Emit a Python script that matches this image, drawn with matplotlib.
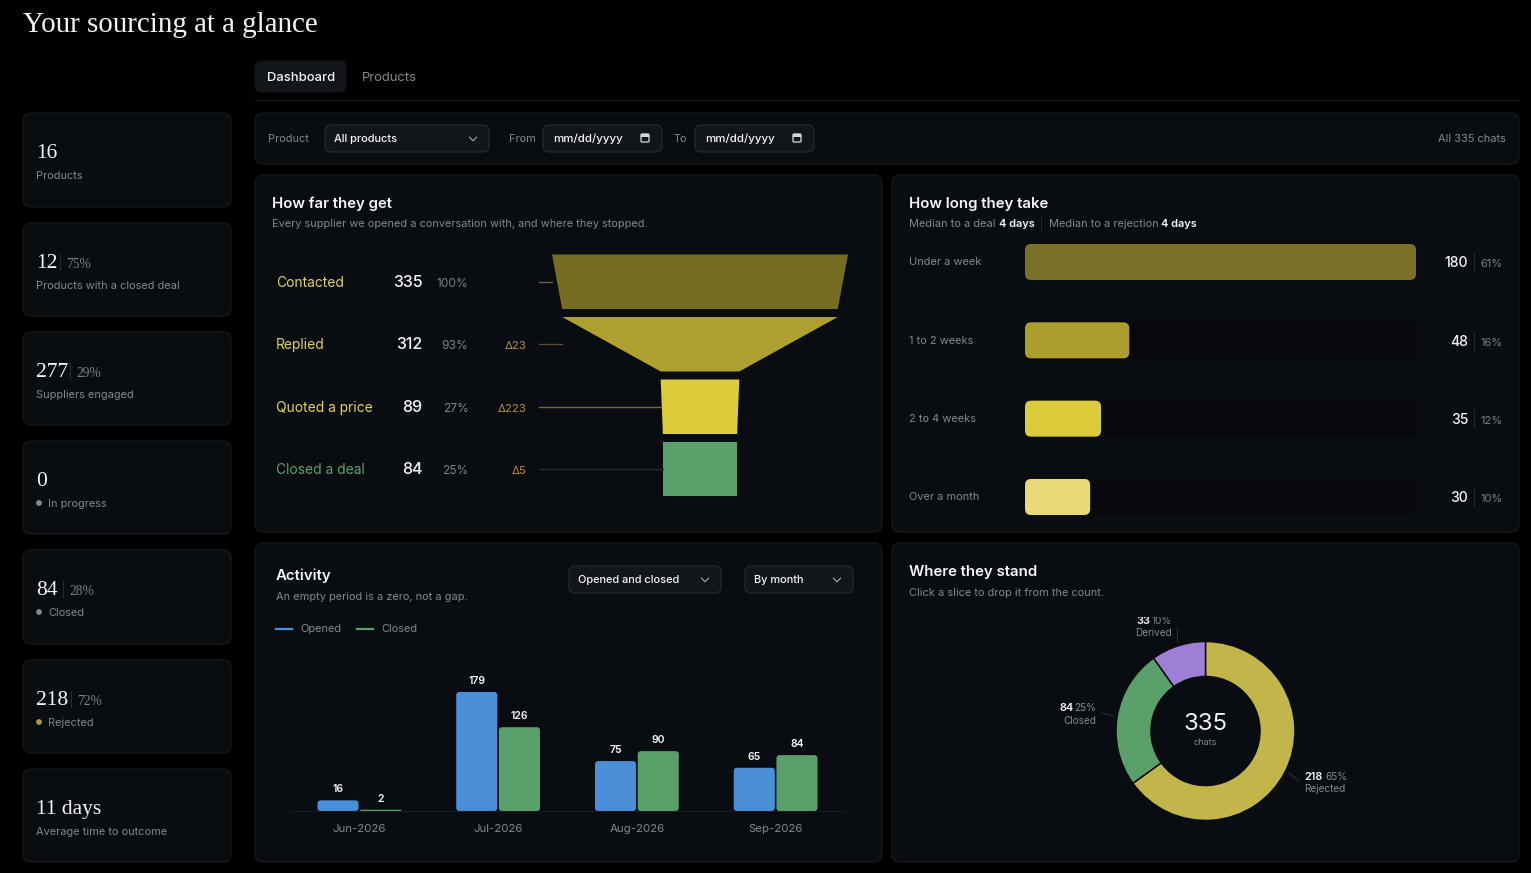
import matplotlib
matplotlib.use("Agg")
import matplotlib.pyplot as plt
from matplotlib.patches import FancyBboxPatch, Circle, Rectangle
from matplotlib.transforms import Bbox

W, H = 1531, 873

# data
stat_values = ["16", "12", "277", "0", "84", "218", "11 days"]
stat_shares = [None, "75%", "29%", None, "28%", "72%", None]
stat_labels = ["Products", "Products with a closed deal", "Suppliers engaged", "In progress",
               "Closed", "Rejected", "Average time to outcome"]

funnel_stages = ["Contacted", "Replied", "Quoted a price", "Closed a deal"]
funnel_counts = [335, 312, 89, 84]
funnel_pct = ["100%", "93%", "27%", "25%"]
funnel_delta = ["", "Δ23", "Δ223", "Δ5"]

duration_labels = ["Under a week", "1 to 2 weeks", "2 to 4 weeks", "Over a month"]
duration_counts = [180, 48, 35, 30]
duration_pct = ["61%", "16%", "12%", "10%"]

months = ["Jun-2026", "Jul-2026", "Aug-2026", "Sep-2026"]
opened = [16, 179, 75, 65]
closed = [2, 126, 90, 84]

status_names = ["Rejected", "Closed", "Derived"]
status_counts = [218, 84, 33]
status_pct = ["65%", "25%", "10%"]

# colours
BG = "#000000"
CARD = "#090c10"
BORDER = "#1a1e23"
CTRL = "#12151a"
CTRL_EDGE = "#2b2f35"
TRACK = "#07090c"
WHITE = "#f4f5f6"
GREY = "#83888e"
FUNNEL_COL = ["#766c22", "#aea02e", "#dccb3b", "#5aa06b"]
DURATION_COL = ["#7a7027", "#ab9e2f", "#dccb3b", "#e8da77"]
STAGE_TEXT = ["#e3d259", "#e3d259", "#e3d259", "#5aa06b"]
LINK_COL = ["#6d5a2e", "#57502a", "#7a6930", "#262b2e"]
DELTA = "#b98a3c"
BLUE = "#4a90d9"
GREEN = "#5aa06b"
DONUT_COL = ["#c2b54a", "#5aa06b", "#9f7fd6"]

SANS = ["Inter", "DejaVu Sans"]
SERIF = ["Liberation Serif", "DejaVu Serif"]
plt.rcParams["font.family"] = SANS

fig = plt.figure(figsize=(W / 100, H / 100), dpi=100, facecolor=BG)

# page layer, drawn in picture pixels
bg = fig.add_axes([0, 0, 1, 1], zorder=0)
bg.set_xlim(0, W)
bg.set_ylim(H, 0)
bg.axis("off")


def px_axes(x0, y0, x1, y1):
    ax = fig.add_axes([x0 / W, 1 - y1 / H, (x1 - x0) / W, (y1 - y0) / H], zorder=1)
    ax.patch.set_alpha(0)
    return ax


def txt(x, y, s, size=11, color=GREY, weight="normal", ha="left", family=None):
    # size is in css pixels
    return bg.text(x, y, s, fontsize=size * 0.72, color=color, fontweight=weight, ha=ha,
                   va="baseline", family=family or SANS)


def box(x0, y0, x1, y1, fc=CARD, ec=BORDER, r=8, lw=1):
    bg.add_patch(FancyBboxPatch((x0, y0), x1 - x0, y1 - y0,
                                boxstyle=f"round,pad=0,rounding_size={r}",
                                fc=fc, ec=ec, lw=lw * 0.72))


def chevron(x, y):
    bg.plot([x - 3.5, x, x + 3.5], [y - 1.8, y + 1.8, y - 1.8], color="#a9adb2", lw=0.8)


def calendar(x, y):
    box(x - 4, y - 4, x + 4, y + 4, fc="none", ec="#d4d6d9", r=1, lw=1.3)
    bg.add_patch(Rectangle((x - 4, y - 4), 8, 2.5, fc="#d4d6d9", ec="none"))


def round_bars(ax, bars, r):
    # swap the library's square bars for the same bars with round corners
    for rect in bars:
        x, y, w, h = rect.get_x(), rect.get_y(), rect.get_width(), rect.get_height()
        a = ax.transData.transform((x, y))
        b = ax.transData.transform((x + w, y + h))
        wpx, hpx = abs(b[0] - a[0]), abs(b[1] - a[1])
        rad = min(r, wpx / 2, hpx / 2)
        rx = rad * w / wpx
        ry = rad * h / hpx
        ax.add_patch(FancyBboxPatch((x, y), w, h, boxstyle=f"round,pad=0,rounding_size={rx}",
                                    mutation_aspect=ry / rx, fc=rect.get_facecolor(), ec="none",
                                    zorder=rect.get_zorder()))
        rect.set_visible(False)


# title and tabs
txt(23, 31.5, "Your sourcing at a glance", 29, WHITE, family=SERIF)
box(255, 61, 346, 92, fc=CTRL, ec=CTRL, r=6)
txt(267, 81, "Dashboard", 13, WHITE, weight="medium")
txt(362, 81, "Products", 13, GREY)
bg.plot([255, 1519], [100, 100], color=BORDER, lw=0.8)

# stat cards on the left
card_tops = [113, 223, 332, 441, 550, 660, 769]
card_bottoms = [207, 316, 425, 534, 644, 753, 862]
sep_x = [None, 60, 70, None, 63, 71, None]
dot_col = [None, None, None, "#83888e", "#83888e", "#a89b3a", None]
for i, val in enumerate(stat_values):
    top = card_tops[i]
    box(23, top, 231, card_bottoms[i])
    base = top + 46
    txt(36, base - 1, val, 21.5, WHITE, family=SERIF)
    if stat_shares[i]:
        bg.plot([sep_x[i], sep_x[i]], [base - 15, base + 1], color="#2b2f35", lw=0.7)
        txt(sep_x[i] + 6, base - 1, stat_shares[i], 13.5, "#7d8288", family=SERIF)
    if dot_col[i]:
        bg.add_patch(Circle((39, base + 16), 2.9, fc=dot_col[i], ec="none"))
        txt(48, base + 20, stat_labels[i], 11, GREY)
    else:
        txt(36, base + 20, stat_labels[i], 11, GREY)

# filter bar
box(255, 113, 1519, 164)
txt(268, 142, "Product", 11, GREY)
box(325, 125, 489, 152, fc=CTRL, ec=CTRL_EDGE, r=6)
txt(334, 142, "All products", 11, WHITE, weight="medium")
chevron(473, 139)
txt(509, 142, "From", 11, GREY)
box(543, 125, 662, 152, fc=CTRL, ec=CTRL_EDGE, r=6)
txt(553, 142, "mm/dd/yyyy", 11.5, WHITE, weight="medium")
calendar(645, 138)
txt(674, 142, "To", 11, GREY)
box(695, 125, 814, 152, fc=CTRL, ec=CTRL_EDGE, r=6)
txt(705, 142, "mm/dd/yyyy", 11.5, WHITE, weight="medium")
calendar(797, 138)
txt(1506, 142, "All 335 chats", 11, GREY, ha="right")

# panels
box(255, 175, 882, 532)
box(892, 175, 1519, 532)
box(255, 543, 882, 862)
box(892, 543, 1519, 862)

# funnel panel
txt(272, 208, "How far they get", 15, WHITE, weight="semibold")
txt(272, 227, "Every supplier we opened a conversation with, and where they stopped.", 11, GREY)
row_base = [287, 349, 412, 474]
for i, stage in enumerate(funnel_stages):
    txt(276, row_base[i], stage, 13.8, STAGE_TEXT[i])
    txt(422.5, row_base[i], str(funnel_counts[i]), 16, WHITE, weight="medium", ha="right")
    txt(468.5, row_base[i], funnel_pct[i], 12, "#7a828a", ha="right")
    txt(526.5, row_base[i], funnel_delta[i], 11.5, DELTA, ha="right")

fax = px_axes(539, 250, 849, 500)
unit = 296 / funnel_counts[0]
fax.set_xlim((539 - 700) / unit, (849 - 700) / unit)
fax.set_ylim(3.928, -0.072)
fax.axis("off")
seg_h = 0.872
for i, c in enumerate(funnel_counts):
    nxt = funnel_counts[i + 1] if i + 1 < len(funnel_counts) else c
    fax.fill([-c / 2, c / 2, nxt / 2, -nxt / 2], [i, i, i + seg_h, i + seg_h],
             color=FUNNEL_COL[i], lw=0)
    fax.plot([(539 - 700) / unit, -c / 2], [i + seg_h / 2] * 2, color=LINK_COL[i], lw=1)

# duration panel
txt(909, 208, "How long they take", 15, WHITE, weight="semibold")
txt(909, 227, "Median to a deal", 11, GREY)
txt(999, 227, "4 days", 11, WHITE, weight="semibold")
bg.plot([1041, 1041], [216, 231], color="#23272c", lw=0.8)
txt(1049, 227, "Median to a rejection", 11, GREY)
txt(1161, 227, "4 days", 11, WHITE, weight="semibold")

dax = px_axes(1025, 244, 1416, 515)
dax.set_xlim(0, max(duration_counts))
dax.set_ylim(3.23, -0.23)
dax.axis("off")
ypos = list(range(len(duration_counts)))
tracks = dax.barh(ypos, [max(duration_counts)] * 4, height=0.46, color=TRACK)
round_bars(dax, tracks, 6)
dbars = dax.barh(ypos, duration_counts, height=0.46, color=DURATION_COL, zorder=3)
round_bars(dax, dbars, 6)
dur_base = [265, 344, 422, 500]
for i, lab in enumerate(duration_labels):
    txt(909, dur_base[i], lab, 11, GREY)
    txt(1468, dur_base[i] + 2, str(duration_counts[i]), 14, WHITE, weight="medium", ha="right")
    bg.plot([1474, 1474], [dur_base[i] - 12, dur_base[i] + 6], color="#23272c", lw=0.8)
    txt(1480, dur_base[i] + 2, duration_pct[i], 11, "#7a828a")

# activity panel
txt(276, 580, "Activity", 15, WHITE, weight="semibold")
txt(276, 600, "An empty period is a zero, not a gap.", 11, GREY)
box(569, 566, 721, 593, fc=CTRL, ec=CTRL_EDGE, r=6)
txt(578, 583, "Opened and closed", 11, WHITE, weight="medium")
chevron(705, 580)
box(745, 566, 853, 593, fc=CTRL, ec=CTRL_EDGE, r=6)
txt(754, 583, "By month", 11, WHITE, weight="medium")
chevron(837, 580)
bg.plot([276, 292], [628.5, 628.5], color=BLUE, lw=1.6)
txt(300, 632, "Opened", 11, GREY)
bg.plot([357, 373], [628.5, 628.5], color=GREEN, lw=1.6)
txt(381, 632, "Closed", 11, GREY)

aax = px_axes(290, 660, 845, 811)
aax.set_xlim(-0.5, 3.5)
aax.set_ylim(0, 151 / 0.665)
xs = list(range(len(months)))
bw = 0.296
b1 = aax.bar([x - 0.154 for x in xs], opened, width=bw, color=BLUE)
b2 = aax.bar([x + 0.154 for x in xs], closed, width=bw, color=GREEN)
round_bars(aax, b1, 3)
round_bars(aax, b2, 3)
for x, a, c in zip(xs, opened, closed):
    aax.annotate(str(a), (x - 0.154, a), xytext=(0, 4.3), textcoords="offset points", ha="center",
                 va="bottom", fontsize=10.5 * 0.72, color=WHITE, fontweight="semibold")
    aax.annotate(str(c), (x + 0.154, c), xytext=(0, 4.3), textcoords="offset points", ha="center",
                 va="bottom", fontsize=10.5 * 0.72, color=WHITE, fontweight="semibold")
aax.set_xticks(xs)
aax.set_xticklabels(months, fontsize=11.5 * 0.72, color=GREY)
aax.set_yticks([])
aax.tick_params(axis="x", length=0, pad=9)
for s in ["top", "left", "right"]:
    aax.spines[s].set_visible(False)
aax.spines["bottom"].set_color(BORDER)
aax.spines["bottom"].set_linewidth(0.8)

# donut panel
txt(909, 576, "Where they stand", 15, WHITE, weight="semibold")
txt(909, 596, "Click a slice to drop it from the count.", 11, GREY)

oax = px_axes(1105.5, 631, 1305.5, 831)
oax.pie(status_counts, colors=DONUT_COL, startangle=90, counterclock=False, radius=1,
        wedgeprops={"width": 35 / 89.5, "edgecolor": CARD, "linewidth": 1.1})
lim = 100 / 89.5
oax.set_xlim(-lim, lim)
oax.set_ylim(-lim, lim)

txt(1205.5, 730, str(sum(status_counts)), 24, WHITE, ha="center")
txt(1205.5, 745, "chats", 9, GREY, ha="center")

# leaders and labels around the donut
bg.plot([1289, 1299], [773, 781], color="#2b2f35", lw=0.8)
bg.plot([1102, 1114], [713, 716], color="#2b2f35", lw=0.8)
bg.plot([1177, 1177], [628, 642], color="#2b2f35", lw=0.8)

txt(1304, 780, str(status_counts[0]), 11, WHITE, weight="semibold")
txt(1325, 780, status_pct[0], 10, GREY)
txt(1304, 792, status_names[0], 10, GREY)
txt(1059, 711, str(status_counts[1]), 11, WHITE, weight="semibold")
txt(1096, 711, status_pct[1], 10, GREY, ha="right")
txt(1096, 724, status_names[1], 10, GREY, ha="right")
# the top label runs past its container in the original, so it is cut off
t1 = txt(1136, 624, str(status_counts[2]), 11, WHITE, weight="semibold")
t2 = txt(1172, 624, status_pct[2], 10, GREY, ha="right")
txt(1172, 636, status_names[2], 10, GREY, ha="right")
clip = Bbox([[1100, H - 660], [1200, H - 616.5]])
for t in (t1, t2):
    t.set_clip_box(clip)
    t.set_clip_on(True)

fig.savefig("out.png", dpi=100, facecolor=BG)
